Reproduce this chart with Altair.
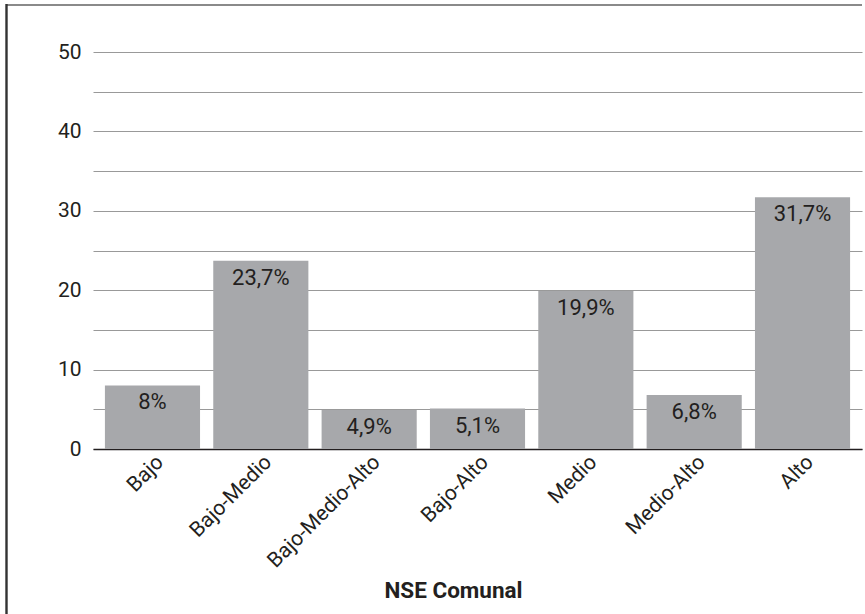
import altair as alt
import pandas as pd

# NSE Comunal categories and their shares (%)
categorias = ["Bajo", "Bajo-Medio", "Bajo-Medio-Alto", "Bajo-Alto", "Medio", "Medio-Alto", "Alto"]
porcentajes = [8.0, 23.7, 4.9, 5.1, 19.9, 6.8, 31.7]

FONT = "Roboto"
TEXT = "#231f20"
BAR = "#a7a8ab"

df = pd.DataFrame({"nse": categorias, "pct": porcentajes})
df["etiqueta"] = [f"{v:g}".replace(".", ",") + "%" for v in porcentajes]

x_enc = alt.X(
    "nse:N",
    sort=categorias,
    scale=alt.Scale(paddingInner=0.122, paddingOuter=0.11),
    axis=alt.Axis(
        title="NSE Comunal",
        labelAngle=-45,
        labelFont=FONT,
        labelFontSize=21,
        labelColor=TEXT,
        ticks=False,
        grid=False,
        domainColor=TEXT,
        domainWidth=1.5,
        titleFont=FONT,
        titleFontSize=22.5,
        titleFontWeight="bold",
        titleColor=TEXT,
        titleX=360,
        titleY=148,
        titleAlign="center",
        titleBaseline="alphabetic",
    ),
)
y_enc = alt.Y(
    "pct:Q",
    scale=alt.Scale(domain=[0, 50], nice=False),
    axis=alt.Axis(
        title=None,
        values=list(range(0, 55, 5)),
        labelExpr="datum.value % 10 === 0 ? datum.label : ''",
        labelFont=FONT,
        labelFontSize=21,
        labelColor=TEXT,
        labelPadding=12,
        ticks=False,
        domain=False,
        grid=True,
        gridColor="#999999",
        gridWidth=1,
    ),
)

bars = alt.Chart(df).mark_bar(color=BAR).encode(x=x_enc, y=y_enc)

labels = alt.Chart(df).mark_text(
    baseline="top", dy=7, font=FONT, fontSize=22, color=TEXT
).encode(x=x_enc, y=y_enc, text="etiqueta:N")

# frame edges along the top and left of the figure
top_edge = alt.Chart(df).mark_rule(color="#8a8a8a", strokeWidth=2).encode(
    x=alt.value(-87), x2=alt.value(769), y=alt.value(-47)
)
left_edge = alt.Chart(df).mark_rule(color="#333333", strokeWidth=1.3).encode(
    x=alt.value(-86.5), y=alt.value(-48), y2=alt.value(565)
)

chart = (
    alt.layer(bars, labels, top_edge, left_edge)
    .properties(
        width=769,
        height=397,
        autosize=alt.AutoSizeParams(type="none"),
        padding={"left": 93, "top": 52, "right": 3, "bottom": 165},
        view=alt.ViewBackground(stroke="transparent", strokeWidth=0),
    )
    .configure_view(stroke="transparent", strokeWidth=0)
    .configure(background="white")
)

chart.save("out.html", embed_options={"renderer": "svg", "actions": False})
